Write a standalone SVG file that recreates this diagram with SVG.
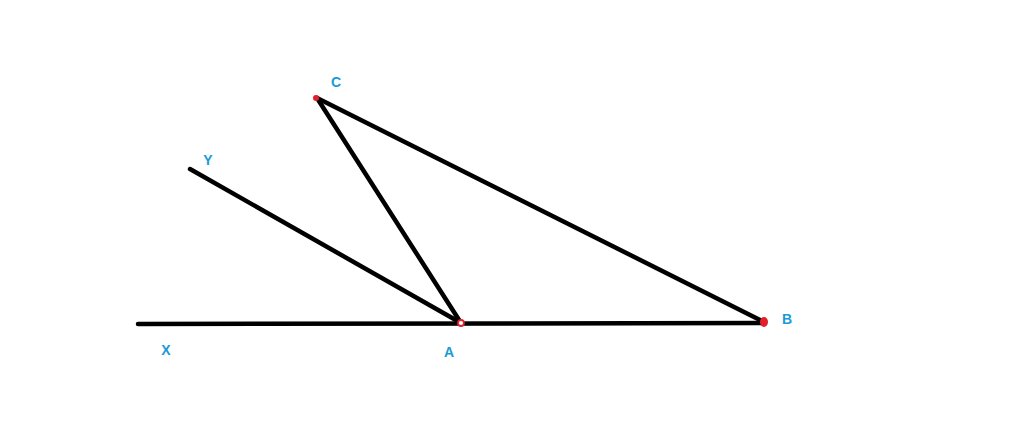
<svg xmlns="http://www.w3.org/2000/svg" width="1024" height="445" viewBox="0 0 1024 445">
<style>
.ln{stroke:#000;stroke-width:4.5;stroke-linecap:round;fill:none}
.lb{font-family:"Liberation Sans",Arial,sans-serif;font-size:14px;font-weight:bold;fill:#1a9ad6;text-anchor:middle}
.pt{fill:#e0202a}
</style>
<rect width="1024" height="445" fill="#fff"/>
<g id="connectors">
<line class="ln" x1="138" y1="324" x2="764" y2="323"/>
<line class="ln" x1="190" y1="169" x2="461" y2="323"/>
<line class="ln" x1="317" y1="98" x2="461" y2="323"/>
<line class="ln" x1="317" y1="98" x2="764" y2="322"/>
</g>
<g id="node-C"><circle class="pt" cx="316" cy="98" r="3"/><text class="lb" x="336" y="87">C</text></g>
<g id="node-Y"><text class="lb" x="208" y="165">Y</text></g>
<g id="node-A"><circle cx="461" cy="323" r="3" fill="#fff" stroke="#e0202a" stroke-width="1.8"/><text class="lb" x="449" y="357">A</text></g>
<g id="node-B"><ellipse class="pt" cx="764" cy="322" rx="4" ry="5"/><text class="lb" x="787" y="324">B</text></g>
<g id="node-X"><text class="lb" x="166" y="355">X</text></g>
</svg>
